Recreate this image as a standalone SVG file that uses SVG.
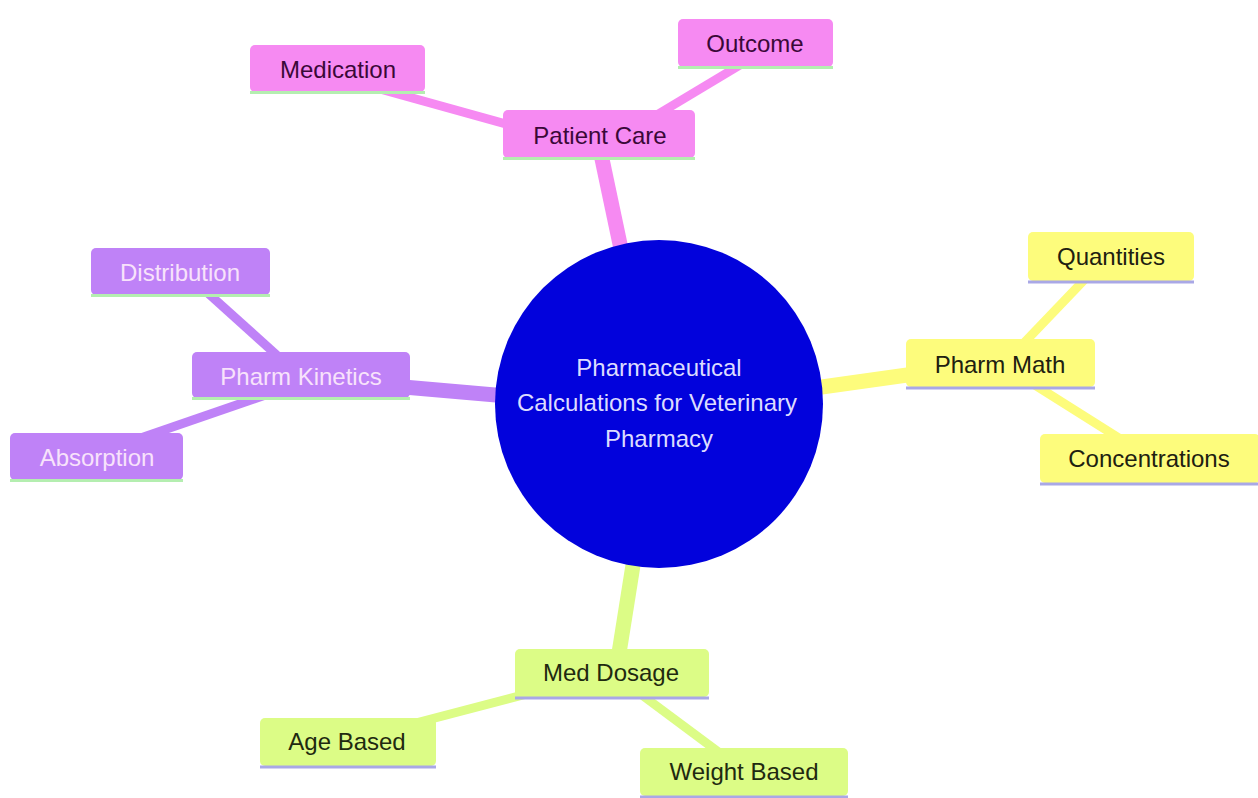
<svg xmlns="http://www.w3.org/2000/svg" width="1258" height="798" viewBox="0 0 1258 798">
<style>
text{font-family:"Liberation Sans",Arial,sans-serif;font-size:24px;text-anchor:middle;dominant-baseline:central}
.e{fill:none;stroke-linecap:butt}
.main{stroke-width:15}
.sub{stroke-width:9}
.pink{fill:#f68af2}.pinkS{stroke:#f68af2}
.purp{fill:#bf82f7}.purpS{stroke:#bf82f7}
.yel{fill:#fdfc7c}.yelS{stroke:#fdfc7c}
.grn{fill:#dcfc86}.grnS{stroke:#dcfc86}
.lg{stroke:#b4eeb0;stroke-width:3}
.lv{stroke:#a9a8e6;stroke-width:3}
.tp{fill:#3a0838}.tu{fill:#f8e2fb}.ty{fill:#202010}.tg{fill:#1f2a10}
</style>
<rect width="1258" height="798" fill="#ffffff"/>
<g id="connectors">
<line class="e main pinkS" x1="598" y1="140" x2="636" y2="320"/>
<line class="e sub pinkS" x1="380" y1="89" x2="560" y2="139"/>
<line class="e sub pinkS" x1="755" y1="56" x2="600" y2="149"/>
<line class="e main purpS" x1="300" y1="378" x2="600" y2="404"/>
<line class="e sub purpS" x1="180" y1="268" x2="300" y2="376"/>
<line class="e sub purpS" x1="100" y1="452" x2="300" y2="383"/>
<line class="e main yelS" x1="700" y1="404" x2="1000" y2="362"/>
<line class="e sub yelS" x1="1111" y1="252" x2="1000" y2="368"/>
<line class="e sub yelS" x1="1000" y1="363" x2="1149" y2="457"/>
<line class="e main grnS" x1="637" y1="540" x2="616" y2="672"/>
<line class="e sub grnS" x1="611" y1="672" x2="347" y2="741"/>
<line class="e sub grnS" x1="611" y1="672" x2="744" y2="771"/>
</g>
<g id="root">
<circle cx="659" cy="404" r="164" fill="#0202dc"/>
<text x="659" y="367" fill="#dcdcff">Pharmaceutical</text>
<text x="657" y="402" fill="#dcdcff">Calculations for Veterinary</text>
<text x="659" y="438" fill="#dcdcff">Pharmacy</text>
</g>
<g id="patient-care">
<rect class="pink" x="503" y="110" width="192" height="48" rx="5"/>
<line class="lg" x1="503" y1="158.5" x2="695" y2="158.5"/>
<text class="tp" x="600" y="135">Patient Care</text>
</g>
<g id="medication">
<rect class="pink" x="250" y="45" width="175" height="47" rx="5"/>
<line class="lg" x1="250" y1="92.5" x2="425" y2="92.5"/>
<text class="tp" x="338" y="69">Medication</text>
</g>
<g id="outcome">
<rect class="pink" x="678" y="19" width="155" height="48" rx="5"/>
<line class="lg" x1="678" y1="67.5" x2="833" y2="67.5"/>
<text class="tp" x="755" y="43">Outcome</text>
</g>
<g id="pharm-kinetics">
<rect class="purp" x="192" y="352" width="218" height="46" rx="5"/>
<line class="lg" x1="192" y1="398.5" x2="410" y2="398.5"/>
<text class="tu" x="301" y="376">Pharm Kinetics</text>
</g>
<g id="distribution">
<rect class="purp" x="91" y="248" width="179" height="47" rx="5"/>
<line class="lg" x1="91" y1="295.5" x2="270" y2="295.5"/>
<text class="tu" x="180" y="272">Distribution</text>
</g>
<g id="absorption">
<rect class="purp" x="10" y="433" width="173" height="47" rx="5"/>
<line class="lg" x1="10" y1="480.5" x2="183" y2="480.5"/>
<text class="tu" x="97" y="457">Absorption</text>
</g>
<g id="pharm-math">
<rect class="yel" x="906" y="339" width="189" height="48" rx="5"/>
<line class="lv" x1="906" y1="388" x2="1095" y2="388"/>
<text class="ty" x="1000" y="364">Pharm Math</text>
</g>
<g id="quantities">
<rect class="yel" x="1028" y="232" width="166" height="49" rx="5"/>
<line class="lv" x1="1028" y1="282" x2="1194" y2="282"/>
<text class="ty" x="1111" y="256">Quantities</text>
</g>
<g id="concentrations">
<rect class="yel" x="1040" y="434" width="220" height="49" rx="5"/>
<line class="lv" x1="1040" y1="484" x2="1258" y2="484"/>
<text class="ty" x="1149" y="458">Concentrations</text>
</g>
<g id="med-dosage">
<rect class="grn" x="515" y="649" width="194" height="48" rx="5"/>
<line class="lv" x1="515" y1="698" x2="709" y2="698"/>
<text class="tg" x="611" y="672">Med Dosage</text>
</g>
<g id="age-based">
<rect class="grn" x="260" y="718" width="176" height="48" rx="5"/>
<line class="lv" x1="260" y1="767" x2="436" y2="767"/>
<text class="tg" x="347" y="741">Age Based</text>
</g>
<g id="weight-based">
<rect class="grn" x="640" y="748" width="208" height="48" rx="5"/>
<line class="lv" x1="640" y1="797" x2="848" y2="797"/>
<text class="tg" x="744" y="771">Weight Based</text>
</g>
</svg>
